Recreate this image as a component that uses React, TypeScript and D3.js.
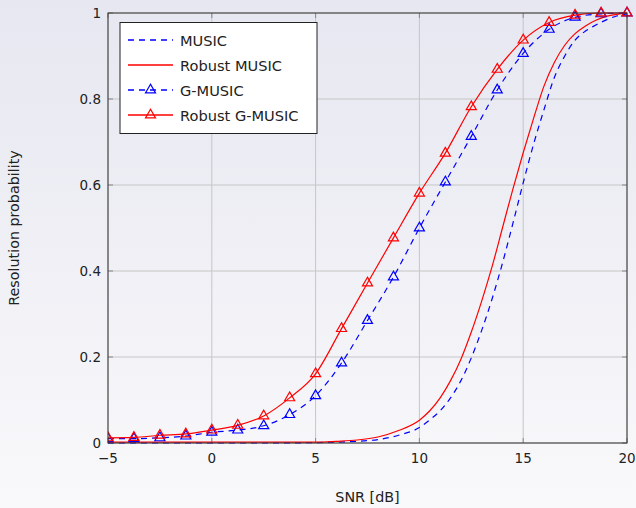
import React from 'react';
import * as d3 from 'd3';

// SNR points where the G-MUSIC estimators were simulated (triangle markers)
const snrMarks = [-5, -3.75, -2.5, -1.25, 0, 1.25, 2.5, 3.75, 5, 6.25, 7.5, 8.75, 10, 11.25, 12.5, 13.75, 15, 16.25, 17.5, 18.75, 20];
const gMusic = [0.01, 0.01, 0.012, 0.016, 0.025, 0.03, 0.04, 0.066, 0.11, 0.186, 0.285, 0.386, 0.5, 0.607, 0.713, 0.821, 0.906, 0.962, 0.99, 0.998, 1.0];
const robustGMusic = [0.012, 0.013, 0.018, 0.021, 0.03, 0.041, 0.063, 0.105, 0.161, 0.266, 0.372, 0.477, 0.581, 0.674, 0.782, 0.869, 0.937, 0.978, 0.995, 1.0, 1.0];

// finer SNR grid for the classic MUSIC curves (no markers)
const snrFine = [-5, -2.5, 0, 2.5, 5, 6, 7, 8, 9, 10, 10.5, 11, 11.5, 12, 12.5, 13, 13.5, 14, 14.5, 15, 15.5, 16, 16.5, 17, 17.5, 18, 18.5, 19, 19.5, 20];
const music = [0.0, 0.0, 0.0, 0.0, 0.001, 0.002, 0.004, 0.008, 0.018, 0.036, 0.054, 0.075, 0.105, 0.145, 0.198, 0.262, 0.335, 0.418, 0.51, 0.605, 0.695, 0.775, 0.85, 0.9, 0.937, 0.958, 0.972, 0.984, 0.993, 0.998];
const robustMusic = [0.002, 0.002, 0.002, 0.002, 0.002, 0.004, 0.007, 0.014, 0.029, 0.053, 0.075, 0.105, 0.145, 0.195, 0.258, 0.33, 0.41, 0.5, 0.59, 0.675, 0.755, 0.83, 0.885, 0.925, 0.952, 0.97, 0.983, 0.992, 0.997, 1.0];

const xTicks = [-5, 0, 5, 10, 15, 20];
const yTicks = [0, 0.2, 0.4, 0.6, 0.8, 1];
const legendLabels = ['MUSIC', 'Robust MUSIC', 'G-MUSIC', 'Robust G-MUSIC'];

const BLUE = '#0000ff';
const RED = '#ff0000';
const FONT = 'DejaVu Sans, sans-serif';

const Triangle = ({ cx, cy, color }: { cx: number; cy: number; color: string }) => {
  let r = 5.8;
  let pts = [
    [cx, cy - r],
    [cx - r * 0.866, cy + r * 0.5],
    [cx + r * 0.866, cy + r * 0.5],
  ];
  return <polygon points={pts.map((p) => p.join(',')).join(' ')} fill="none" stroke={color} strokeWidth={1.2} />;
};

const App = () => {
  let width = 636;
  let height = 508;
  let margin = { top: 13, right: 9, bottom: 65, left: 108 };
  let innerW = width - margin.left - margin.right;
  let innerH = height - margin.top - margin.bottom;

  let x = d3.scaleLinear().domain([-5, 20]).range([margin.left, margin.left + innerW]);
  let y = d3.scaleLinear().domain([0, 1]).range([margin.top + innerH, margin.top]);

  let smooth = d3.line<[number, number]>()
    .x((d) => x(d[0]))
    .y((d) => y(d[1]))
    .curve(d3.curveMonotoneX);

  let zip = (xs: number[], ys: number[]) => xs.map((v, i) => [v, ys[i]] as [number, number]);

  let series = [
    { label: legendLabels[0], xs: snrFine, ys: music, color: BLUE, dash: '6 5', marks: false },
    { label: legendLabels[1], xs: snrFine, ys: robustMusic, color: RED, dash: null, marks: false },
    { label: legendLabels[2], xs: snrMarks, ys: gMusic, color: BLUE, dash: '6 5', marks: true },
    { label: legendLabels[3], xs: snrMarks, ys: robustGMusic, color: RED, dash: null, marks: true },
  ];

  let x0 = margin.left;
  let x1 = margin.left + innerW;
  let yb = margin.top + innerH;
  let yt = margin.top;

  return (
    <svg width={width} height={height} style={{ position: 'fixed', left: 0, top: 0 }} fontFamily={FONT}>
      <defs>
        <linearGradient id="bg" x1="0" y1="0" x2="0" y2="1">
          <stop offset="0" stopColor="#e6e7f0" />
          <stop offset="1" stopColor="#f9f9fb" />
        </linearGradient>
        <clipPath id="plot">
          <rect x={x0} y={yt - 8} width={innerW + 8} height={innerH + 16} />
        </clipPath>
      </defs>
      <rect width={width} height={height} fill="url(#bg)" />

      {/* grid */}
      {xTicks.map((t) => (
        <line key={'gx' + t} x1={x(t)} x2={x(t)} y1={yt} y2={yb} stroke="#c6c6c6" strokeWidth={1} />
      ))}
      {yTicks.map((t) => (
        <line key={'gy' + t} x1={x0} x2={x1} y1={y(t)} y2={y(t)} stroke="#c6c6c6" strokeWidth={1} />
      ))}
      {/* inward ticks */}
      {xTicks.map((t) => (
        <g key={'tx' + t}>
          <line x1={x(t)} x2={x(t)} y1={yb} y2={yb - 5} stroke="#888" />
          <line x1={x(t)} x2={x(t)} y1={yt} y2={yt + 5} stroke="#888" />
        </g>
      ))}
      {yTicks.map((t) => (
        <g key={'ty' + t}>
          <line x1={x0} x2={x0 + 5} y1={y(t)} y2={y(t)} stroke="#888" />
          <line x1={x1} x2={x1 - 5} y1={y(t)} y2={y(t)} stroke="#888" />
        </g>
      ))}

      {/* curves */}
      <g clipPath="url(#plot)">
        {series.map((s) => (
          <g key={s.label}>
            <path d={smooth(zip(s.xs, s.ys)) || ''} fill="none" stroke={s.color} strokeWidth={1.2}
              strokeDasharray={s.dash || undefined} />
            {s.marks && s.xs.map((v, i) => (
              <Triangle key={i} cx={x(v)} cy={y(s.ys[i])} color={s.color} />
            ))}
          </g>
        ))}
      </g>

      {/* frame */}
      <rect x={x0} y={yt} width={innerW} height={innerH} fill="none" stroke="#333" strokeWidth={1} />

      {/* tick labels */}
      {xTicks.map((t) => (
        <text key={'lx' + t} x={x(t)} y={yb + 20} textAnchor="middle" fontSize={13.5} fill="#222">
          {t < 0 ? '\u2212' + Math.abs(t) : t}
        </text>
      ))}
      {yTicks.map((t) => (
        <text key={'ly' + t} x={x0 - 7} y={y(t) + 5} textAnchor="end" fontSize={13.5} fill="#222">
          {t}
        </text>
      ))}

      {/* axis titles */}
      <text x={(x0 + x1) / 2} y={502} textAnchor="middle" fontSize={14.3} fill="#222">SNR [dB]</text>
      <text transform={`translate(19, ${(yt + yb) / 2}) rotate(-90)`} textAnchor="middle" fontSize={14.3} fill="#222">
        Resolution probability
      </text>

      {/* legend */}
      <g>
        <rect x={120} y={22.5} width={197} height={111} fill="#fff" stroke="#222" strokeWidth={1} />
        {series.map((s, i) => {
          let ly = 40 + i * 25;
          return (
            <g key={'lg' + s.label}>
              <line x1={128} x2={173} y1={ly} y2={ly} stroke={s.color} strokeWidth={1.3}
                strokeDasharray={s.dash || undefined} />
              {s.marks && <Triangle cx={150.5} cy={ly} color={s.color} />}
              <text x={180} y={ly + 5.5} fontSize={14.6} fill="#222">{s.label}</text>
            </g>
          );
        })}
      </g>
    </svg>
  );
};

export default App;
